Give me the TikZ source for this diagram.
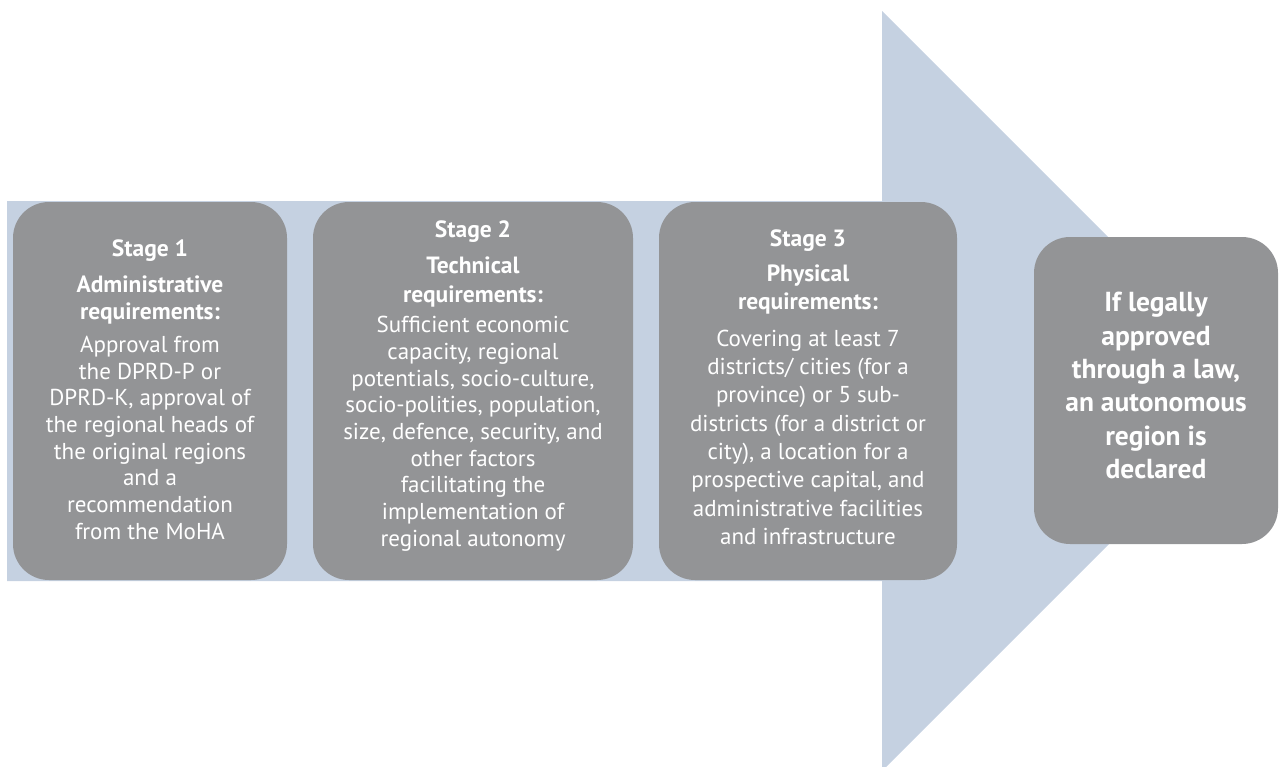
\documentclass[tikz,border=0pt]{standalone}
\usepackage{fontspec}
\setmainfont{PT Sans}
\definecolor{arrowblue}{RGB}{197,209,225}
\definecolor{boxgrey}{RGB}{147,148,150}
\newcommand{\stagehead}[1]{{\bfseries\fontsize{23.5}{28}\selectfont #1}}
\begin{document}
\begin{tikzpicture}[x=1pt, y=-1pt,
	stagebox/.style={fill=boxgrey, rounded corners=36pt, text=white, align=center, inner sep=0pt,
		minimum height=378pt, font=\fontsize{23}{26.7}\selectfont},
	endbox/.style={stagebox, minimum height=307pt, font=\bfseries\fontsize{27.5}{33.4}\selectfont}]
	\useasboundingbox (0,0) rectangle (1279,766);
	% big arrow behind the stages
	\fill[arrowblue] (7,201) -- (882,201) -- (882,11) -- (1262,391) -- (882,771) -- (882,581) -- (7,581) -- cycle;
	\node[stagebox, minimum width=274pt, text depth=3pt] (stage1) at (150,391)
		{\stagehead{Stage 1}\\[9pt] \stagehead{Administrative}\\[1pt] \stagehead{requirements:}\\[6pt]
		 Approval from\\ the DPRD-P or\\ DPRD-K, approval of\\ the regional heads of\\ the original regions\\ and a\\ recommendation\\ from the MoHA};
	\node[stagebox, minimum width=320pt, text depth=15pt] (stage2) at (473,391)
		{\stagehead{Stage 2}\\[9pt] \stagehead{Technical}\\[3pt] \stagehead{requirements:}\\[3pt]
		 Sufficient economic\\ capacity, regional\\ potentials, socio-culture,\\ socio-polities, population,\\ size, defence, security, and\\ other factors\\ facilitating the\\ implementation of\\ regional autonomy};
	\node[stagebox, minimum width=298pt, text depth=8pt, font=\fontsize{23}{28.3}\selectfont] (stage3) at (808,391)
		{\stagehead{Stage 3}\\[7pt] \stagehead{Physical}\\ \stagehead{requirements:}\\[8pt]
		 Covering at least 7\\ districts/ cities (for a\\ province) or 5 sub-\\ districts (for a district or\\ city), a location for a\\ prospective capital, and\\ administrative facilities\\ and infrastructure};
	\node[endbox, minimum width=244pt, text depth=10pt] (declared) at (1156,390.5)
		{If legally\\ approved\\ through a law,\\ an autonomous\\ region is\\ declared};
\end{tikzpicture}
\end{document}
